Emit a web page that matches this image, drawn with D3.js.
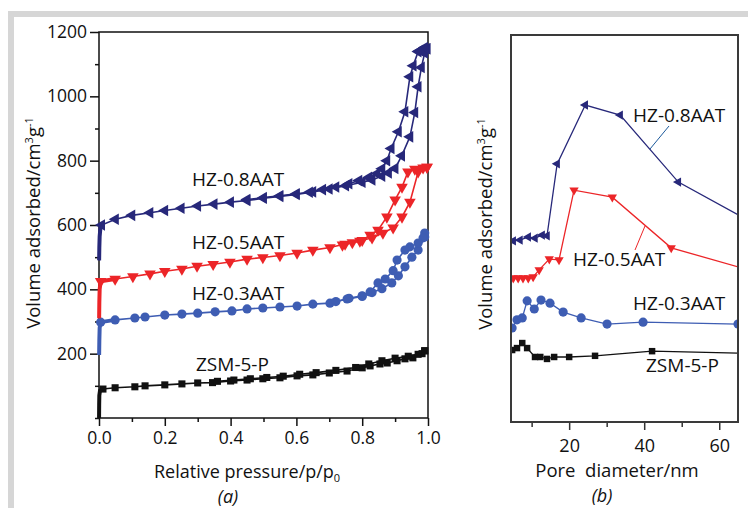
<!DOCTYPE html>
<html>
<head>
<meta charset="utf-8">
<script src="https://cdn.jsdelivr.net/npm/d3@7"></script>
<style>
body { margin: 0; background: #fff; }
svg { display: block; font-family: "Open Sans", sans-serif; }
.tick text { font-family: "Open Sans", sans-serif; fill: #111; }
</style>
</head>
<body>
<svg id="chart" width="748" height="508"></svg>
<script>
// ---- panel (a): N2 isotherms, [p/p0, volume cm3/g] ----
var hz08Ads = [[0.0004,490],[0.001,530],[0.002,565],[0.004,588],[0.008,600],[0.05,618],[0.1,630],[0.155,638],[0.2,645],[0.25,652],[0.3,659],[0.35,665],[0.4,671],[0.45,676],[0.5,683],[0.55,689],[0.6,695],[0.65,703],[0.7,712],[0.75,722],[0.8,733],[0.83,740],[0.86,752],[0.88,762],[0.9,776],[0.92,815],[0.945,874],[0.96,950],[0.97,1030],[0.98,1090],[0.99,1135],[0.997,1148]];
var hz08Des = [[0.997,1148],[0.99,1152],[0.975,1142],[0.97,1139],[0.955,1095],[0.945,1061],[0.93,952],[0.91,890],[0.888,838],[0.875,800],[0.86,775],[0.845,760],[0.82,748],[0.79,738],[0.76,728],[0.72,718],[0.68,710],[0.64,702],[0.6,697],[0.55,691],[0.5,685],[0.45,679]];
var hz05Ads = [[0.0004,310],[0.001,360],[0.002,400],[0.005,425],[0.049,432],[0.103,440],[0.155,448],[0.2,456],[0.252,463],[0.298,472],[0.347,478],[0.398,485],[0.45,494],[0.498,499],[0.55,505],[0.602,513],[0.65,522],[0.702,530],[0.748,541],[0.793,550],[0.83,560],[0.863,575],[0.894,591],[0.921,625],[0.945,671],[0.97,765],[0.997,780]];
var hz05Des = [[0.997,780],[0.985,778],[0.96,774],[0.939,765],[0.921,718],[0.9,678],[0.875,625],[0.848,584],[0.824,569],[0.8,552],[0.77,545],[0.74,538]];
var hz03Ads = [[0.0004,196],[0.001,240],[0.002,280],[0.005,298],[0.049,305],[0.109,311],[0.14,314],[0.2,320],[0.252,323],[0.3,326],[0.353,330],[0.404,333],[0.45,339],[0.498,342],[0.55,345],[0.602,348],[0.65,354],[0.702,357],[0.754,370],[0.8,378],[0.83,390],[0.86,402],[0.89,420],[0.91,442],[0.93,470],[0.951,500],[0.97,522],[0.99,563]];
var hz03Des = [[0.99,575],[0.985,560],[0.97,544],[0.945,532],[0.93,522],[0.906,491],[0.894,458],[0.87,432],[0.848,420],[0.824,392],[0.8,380],[0.76,372],[0.72,362]];
var zsmAds = [[0.0002,0],[0.0005,40],[0.001,70],[0.003,85],[0.012,90],[0.049,94],[0.109,97],[0.14,100],[0.2,103],[0.252,106],[0.3,109],[0.345,110],[0.4,115],[0.45,118],[0.498,122],[0.55,125],[0.602,131],[0.65,134],[0.7,140],[0.754,146],[0.8,156],[0.824,162],[0.854,168],[0.876,171],[0.906,178],[0.93,184],[0.954,187],[0.982,200],[0.99,209]];
var zsmDes = [[0.99,209],[0.97,198],[0.94,192],[0.9,186],[0.86,178],[0.82,168],[0.78,157],[0.72,148],[0.66,141],[0.61,136],[0.56,130],[0.51,126],[0.46,122],[0.41,118],[0.36,114]];

// ---- panel (b): pore size distribution, [diameter nm, a.u.] ----
var hz08Psd = [[5.1,46.8],[6.9,47.0],[9.1,47.8],[10.9,47.5],[12.8,48.3],[14.1,48.1],[16.8,66.7],[24.3,81.9],[33.6,79.3],[49.1,62.0],[66,53.0]];
var hz05Psd = [[5.1,37.2],[6.4,37.2],[7.7,37.2],[9.1,37.2],[10.4,37.5],[12.0,39.3],[14.7,42.1],[17.3,41.9],[21.3,59.9],[31.5,58.1],[47.2,45.0],[66,39.8]];
var hz03Psd = [[4.8,24.3],[6.1,26.4],[7.5,26.9],[8.8,31.3],[10.7,29.2],[12.5,31.5],[14.9,30.7],[18.4,28.4],[23.2,26.9],[30.1,25.3],[39.7,25.8],[65,25.3]];
var zsmPsd = [[4.8,18.6],[6.1,19.1],[7.5,20.4],[8.8,19.1],[10.9,16.8],[12.3,16.8],[14.1,16.3],[16.0,16.8],[20.0,16.8],[26.9,17.1],[42.1,18.3],[66,17.8]];

var xTicksA = [0, 0.2, 0.4, 0.6, 0.8, 1.0];
var xMinorA = [0.1, 0.3, 0.5, 0.7, 0.9];
var yTicksA = [200, 400, 600, 800, 1000, 1200];
var yMinorA = [0, 100, 300, 500, 700, 900, 1100];
var xTicksB = [20, 40, 60];
var xMinorB = [10, 30, 50];

var navy = "#27287a", red = "#ec2528", blue = "#3e5db3", black = "#111";

var svg = d3.select("#chart");

// page frame
svg.append("rect").attr("x", 8).attr("y", 11).attr("width", 740).attr("height", 497).attr("fill", "#d6d6d6");
svg.append("rect").attr("x", 14).attr("y", 17).attr("width", 734).attr("height", 491).attr("fill", "#fff");

// ================= panel (a) =================
var xA = d3.scaleLinear().domain([0, 1]).range([99, 428]);
var yA = d3.scaleLinear().domain([0, 1200]).range([418, 32]);
var gA = svg.append("g");

gA.append("rect").attr("x", xA(0)).attr("y", yA(1200))
	.attr("width", xA(1) - xA(0)).attr("height", yA(0) - yA(1200))
	.attr("fill", "none").attr("stroke", "#111").attr("stroke-width", 1.5);

gA.append("g").attr("transform", "translate(0," + yA(0) + ")")
	.call(d3.axisBottom(xA).tickValues(xTicksA).tickSize(8).tickSizeOuter(0).tickPadding(6).tickFormat(d3.format(".1f")));
gA.append("g").attr("transform", "translate(0," + yA(0) + ")")
	.call(d3.axisBottom(xA).tickValues(xMinorA).tickSize(4).tickFormat(""));
gA.append("g").attr("transform", "translate(" + xA(0) + ",0)")
	.call(d3.axisLeft(yA).tickValues(yTicksA).tickSize(9).tickSizeOuter(0).tickPadding(3).tickFormat(d3.format("d")));
gA.append("g").attr("transform", "translate(" + xA(0) + ",0)")
	.call(d3.axisLeft(yA).tickValues(yMinorA).tickSize(4).tickFormat(""));
gA.selectAll(".domain").remove();
gA.selectAll(".tick line").attr("stroke", "#111").attr("stroke-width", 1.5);
gA.selectAll(".tick text").attr("font-size", "17.5px");

var lineA = d3.line().x(function(d){ return xA(d[0]); }).y(function(d){ return yA(d[1]); });

var isotherms = [
	{ads: zsmAds, des: zsmDes, color: black, type: d3.symbolSquare, size: 50, rot: 0},
	{ads: hz03Ads, des: hz03Des, color: blue, type: d3.symbolCircle, size: 66, rot: 0},
	{ads: hz05Ads, des: hz05Des, color: red, type: d3.symbolTriangle, size: 58, rot: 180},
	{ads: hz08Ads, des: hz08Des, color: navy, type: d3.symbolTriangle, size: 58, rot: -90}
];

isotherms.forEach(function(s) {
	// thick low pressure uptake
	gA.append("path").datum(s.ads.slice(0, 5)).attr("d", lineA)
		.attr("fill", "none").attr("stroke", s.color).attr("stroke-width", 4);
	[s.ads, s.des].forEach(function(br) {
		gA.append("path").datum(br).attr("d", lineA)
			.attr("fill", "none").attr("stroke", s.color).attr("stroke-width", 1.6);
		gA.selectAll(null).data(br.filter(function(d){ return d[0] >= 0.005; })).enter().append("path")
			.attr("d", d3.symbol().type(s.type).size(s.size))
			.attr("transform", function(d){ return "translate(" + xA(d[0]) + "," + yA(d[1]) + ") rotate(" + s.rot + ")"; })
			.attr("fill", s.color);
	});
});

var labA = gA.append("g").attr("font-size", "19px").attr("fill", "#111");
labA.append("text").attr("x", 192).attr("y", 186).text("HZ-0.8AAT");
labA.append("text").attr("x", 192).attr("y", 249).text("HZ-0.5AAT");
labA.append("text").attr("x", 192).attr("y", 300).text("HZ-0.3AAT");
labA.append("text").attr("x", 196).attr("y", 371).text("ZSM-5-P");

var ttlA = svg.append("text").attr("x", 154).attr("y", 478).attr("font-size", "18px").attr("fill", "#111");
ttlA.append("tspan").text("Relative pressure/p/p");
ttlA.append("tspan").attr("font-size", "11px").attr("dy", 4).text("0");
svg.append("text").attr("x", 228).attr("y", 503).attr("text-anchor", "middle")
	.attr("font-size", "18px").attr("font-style", "italic").attr("fill", "#111").text("(a)");

function yTitle(x, y) {
	var t = svg.append("text").attr("transform", "translate(" + x + "," + y + ") rotate(-90)")
		.attr("text-anchor", "middle").attr("font-size", "18.5px").attr("fill", "#111");
	t.append("tspan").text("Volume adsorbed/cm");
	t.append("tspan").attr("font-size", "11px").attr("dy", -7).text("3");
	t.append("tspan").attr("dy", 7).text("g");
	t.append("tspan").attr("font-size", "11px").attr("dy", -7).text("-1");
}
yTitle(40, 223);

// ================= panel (b) =================
var xB = d3.scaleLinear().domain([4.5, 65]).range([511, 738]);
var yB = d3.scaleLinear().domain([0, 100]).range([422, 35]);
var gB = svg.append("g");

svg.append("clipPath").attr("id", "clipB").append("rect")
	.attr("x", xB(4.5)).attr("y", yB(100)).attr("width", xB(65) - xB(4.5)).attr("height", yB(0) - yB(100));

gB.append("g").attr("transform", "translate(0," + yB(0) + ")")
	.call(d3.axisBottom(xB).tickValues(xTicksB).tickSize(8).tickSizeOuter(0).tickPadding(9));
gB.append("g").attr("transform", "translate(0," + yB(0) + ")")
	.call(d3.axisBottom(xB).tickValues(xMinorB).tickSize(5).tickFormat(""));
gB.selectAll(".domain").remove();
gB.selectAll(".tick line").attr("stroke", "#333").attr("stroke-width", 1.5);
gB.selectAll(".tick text").attr("font-size", "18px");

var lineB = d3.line().x(function(d){ return xB(d[0]); }).y(function(d){ return yB(d[1]); });
var plotB = gB.append("g").attr("clip-path", "url(#clipB)");

var psd = [
	{data: zsmPsd, color: black, type: d3.symbolSquare, size: 42, rot: 0},
	{data: hz03Psd, color: blue, type: d3.symbolCircle, size: 66, rot: 0},
	{data: hz05Psd, color: red, type: d3.symbolTriangle, size: 38, rot: 180},
	{data: hz08Psd, color: navy, type: d3.symbolTriangle, size: 38, rot: -90}
];
psd.forEach(function(s) {
	plotB.append("path").datum(s.data).attr("d", lineB)
		.attr("fill", "none").attr("stroke", s.color).attr("stroke-width", 1.3);
	plotB.selectAll(null).data(s.data.filter(function(d){ return d[0] <= 65; })).enter().append("path")
		.attr("d", d3.symbol().type(s.type).size(s.size))
		.attr("transform", function(d){ return "translate(" + xB(d[0]) + "," + yB(d[1]) + ") rotate(" + s.rot + ")"; })
		.attr("fill", s.color);
});

gB.append("rect").attr("x", xB(4.5)).attr("y", yB(100))
	.attr("width", xB(65) - xB(4.5)).attr("height", yB(0) - yB(100))
	.attr("fill", "none").attr("stroke", "#3a3a3a").attr("stroke-width", 2);

// leader lines
gB.append("line").attr("x1", 669).attr("y1", 126).attr("x2", 650).attr("y2", 149).attr("stroke", "#1d5a9c").attr("stroke-width", 1);
gB.append("line").attr("x1", 645).attr("y1", 226).attr("x2", 635).attr("y2", 250).attr("stroke", red).attr("stroke-width", 1);

var labB = gB.append("g").attr("font-size", "19px").attr("fill", "#111");
labB.append("text").attr("x", 633).attr("y", 122).text("HZ-0.8AAT");
labB.append("text").attr("x", 573).attr("y", 266).text("HZ-0.5AAT");
labB.append("text").attr("x", 633).attr("y", 310).text("HZ-0.3AAT");
labB.append("text").attr("x", 646).attr("y", 372).text("ZSM-5-P");

svg.append("text").attr("x", 617).attr("y", 477).attr("text-anchor", "middle")
	.attr("font-size", "18.5px").attr("fill", "#111").attr("xml:space", "preserve").text("Pore  diameter/nm");
svg.append("text").attr("x", 602).attr("y", 502).attr("text-anchor", "middle")
	.attr("font-size", "18px").attr("font-style", "italic").attr("fill", "#111").text("(b)");
yTitle(492, 224);
</script>
</body>
</html>
